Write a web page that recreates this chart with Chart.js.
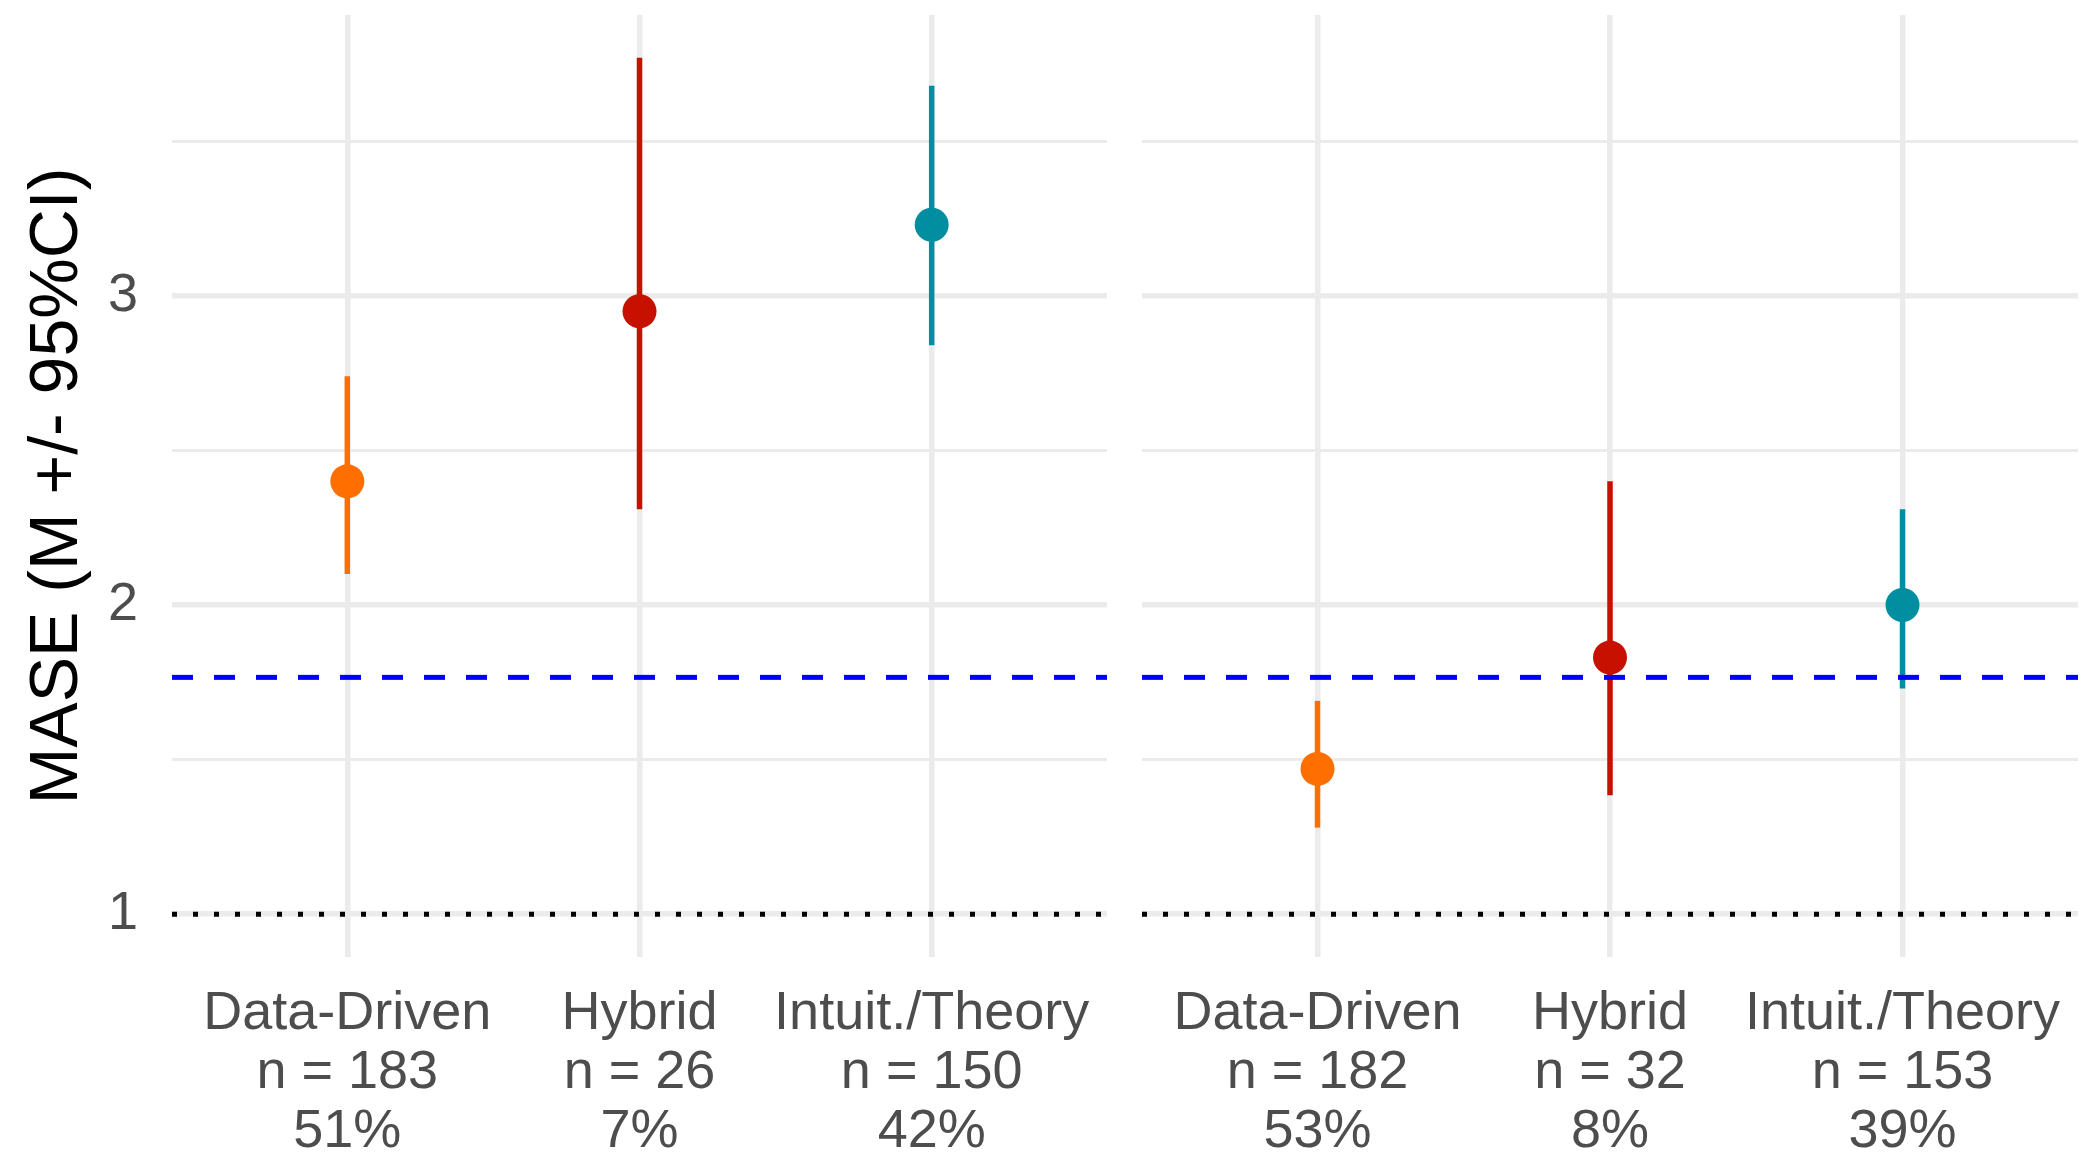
<!DOCTYPE html>
<html>
<head>
<meta charset="utf-8">
<script src="https://cdn.jsdelivr.net/npm/chart.js@4"></script>
<style>
  html, body { margin: 0; padding: 0; background: #fff; }
  #wrap { position: relative; width: 2084px; height: 1156px; overflow: hidden; }
  canvas { position: absolute; top: 0; }
  #left { left: 0; }
  #right { left: 1110px; }
</style>
</head>
<body>
<div id="wrap">
  <canvas id="left" width="1110" height="1156"></canvas>
  <canvas id="right" width="974" height="1156"></canvas>
</div>
<script>
// categories and per-panel data
const categories = ['Data-Driven', 'Hybrid', 'Intuit./Theory'];
const colors = ['#FF6F00', '#C71000', '#008EA0'];

const leftN = [183, 26, 150];
const leftPct = ['51%', '7%', '42%'];
const leftMean = [2.40, 2.95, 3.23];
const leftLo = [2.10, 2.31, 2.84];
const leftHi = [2.74, 3.77, 3.68];

const rightN = [182, 32, 153];
const rightPct = ['53%', '8%', '39%'];
const rightMean = [1.47, 1.83, 2.00];
const rightLo = [1.28, 1.385, 1.73];
const rightHi = [1.69, 2.40, 2.31];

const refLine = 1.766;   // blue dashed
const baseLine = 1;      // black dotted

const yTickValues = [1, 1.5, 2, 2.5, 3, 3.5];
const yTickLabels = ['1', '', '2', '', '3', ''];
const yMin = 0.8615;
const yMax = 3.9085;

const FONT = "'Liberation Sans', Arial, Helvetica, sans-serif";
const GRID = '#EBEBEB';

function buildDatasets(mean, lo, hi) {
    const sets = [];
    mean.forEach((m, i) => {
        sets.push({
            type: 'line',
            data: [{ x: i + 1, y: lo[i] }, { x: i + 1, y: hi[i] }],
            borderColor: colors[i],
            borderWidth: 5.5,
            pointRadius: 0,
            borderCapStyle: 'butt',
            order: 3
        });
    });
    sets.push({
        type: 'line',
        data: [{ x: 0.4, y: baseLine }, { x: 3.6, y: baseLine }],
        borderColor: '#000000',
        borderWidth: 5,
        borderDash: [5, 16],
        pointRadius: 0,
        order: 2
    });
    sets.push({
        type: 'line',
        data: [{ x: 0.4, y: refLine }, { x: 3.6, y: refLine }],
        borderColor: '#0000FF',
        borderWidth: 5,
        borderDash: [21, 21],
        pointRadius: 0,
        order: 2
    });
    sets.push({
        type: 'scatter',
        data: mean.map((m, i) => ({ x: i + 1, y: m })),
        backgroundColor: colors,
        borderWidth: 0,
        pointRadius: 17,
        order: 1
    });
    return sets;
}

function makeChart(id, mean, lo, hi, nArr, pctArr, isLeft) {
    const ctx = document.getElementById(id).getContext('2d');
    return new Chart(ctx, {
        type: 'scatter',
        data: { datasets: buildDatasets(mean, lo, hi) },
        options: {
            responsive: false,
            animation: false,
            devicePixelRatio: 1,
            layout: {
                autoPadding: false,
                padding: { top: 15, right: isLeft ? 3 : 6, left: 0, bottom: 0 }
            },
            plugins: { legend: { display: false }, tooltip: { enabled: false } },
            scales: {
                x: {
                    type: 'linear',
                    min: 0.4,
                    max: 3.6,
                    afterBuildTicks: scale => {
                        scale.ticks = categories.map((c, i) => ({ value: i + 1 }));
                    },
                    afterFit: scale => {
                        scale.height = 199;
                        scale.paddingLeft = 0; scale.paddingRight = 0;
                    },
                    grid: { color: GRID, lineWidth: 5.5, drawTicks: false },
                    border: { display: false },
                    ticks: {
                        padding: 27,
                        maxRotation: 0,
                        autoSkip: false,
                        color: '#4D4D4D',
                        font: { family: FONT, size: 54, lineHeight: 1.1 },
                        callback: (v) => {
                            const i = Math.round(v) - 1;
                            return [categories[i], 'n = ' + nArr[i], pctArr[i]];
                        }
                    }
                },
                y: {
                    min: yMin,
                    max: yMax,
                    afterBuildTicks: scale => {
                        scale.ticks = yTickValues.map(v => ({ value: v }));
                    },
                    afterFit: scale => {
                        scale.width = isLeft ? 172 : 32;
                        scale.paddingTop = 0; scale.paddingBottom = 0;
                    },
                    grid: {
                        color: GRID,
                        lineWidth: c => (Number.isInteger(c.tick.value) ? 5.5 : 3),
                        drawTicks: false
                    },
                    border: { display: false },
                    title: {
                        display: isLeft,
                        text: 'MASE (M +/- 95%CI)',
                        color: '#000000',
                        font: { family: FONT, size: 68, lineHeight: 1 },
                        padding: { top: 24, bottom: 0 }
                    },
                    ticks: {
                        display: isLeft,
                        padding: 34,
                        color: '#4D4D4D',
                        font: { family: FONT, size: 54 },
                        callback: (v) => {
                            const k = yTickValues.indexOf(v);
                            return k >= 0 ? yTickLabels[k] : '';
                        }
                    }
                }
            }
        }
    });
}

makeChart('left', leftMean, leftLo, leftHi, leftN, leftPct, true);
makeChart('right', rightMean, rightLo, rightHi, rightN, rightPct, false);
</script>
</body>
</html>
